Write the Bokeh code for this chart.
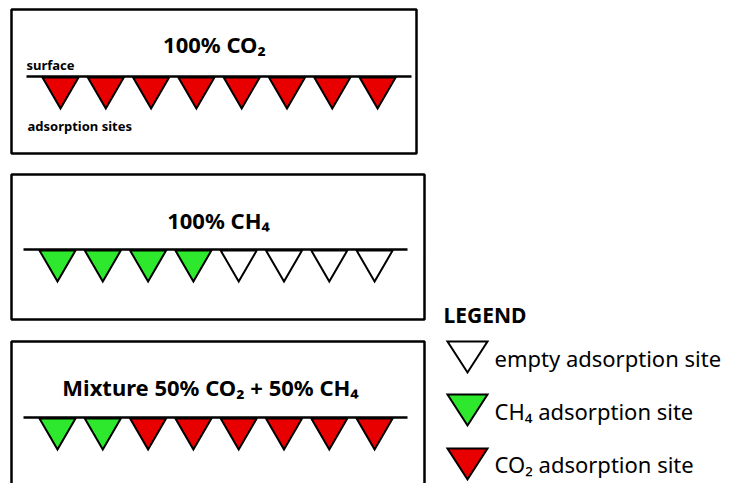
from bokeh.plotting import figure
from bokeh.models import Range1d
from bokeh.core.properties import value
from bokeh.embed import file_html
from bokeh.resources import INLINE

# ---- data ----
panel_titles = ["100% CO₂", "100% CH₄", "Mixture 50% CO₂ + 50% CH₄"]
panel1_sites = ["CO2", "CO2", "CO2", "CO2", "CO2", "CO2", "CO2", "CO2"]
panel2_sites = ["CH4", "CH4", "CH4", "CH4", "empty", "empty", "empty", "empty"]
panel3_sites = ["CH4", "CH4", "CO2", "CO2", "CO2", "CO2", "CO2", "CO2"]
legend_keys = ["empty", "CH4", "CO2"]
legend_labels = ["empty adsorption site", "CH₄ adsorption site", "CO₂ adsorption site"]
legend_title = "LEGEND"
label_surface = "surface"
label_sites = "adsorption sites"

# ---- styles / layout ----
site_colors = {"empty": "#ffffff", "CH4": "#2ee82e", "CO2": "#e80000"}
FONT = value("Noto Sans")

boxes = [(11, 9, 416, 153), (11, 174, 424, 319), (11, 341, 424, 500)]
surface_y = [76, 249, 417]
surface_x = [(26, 411), (23, 407), (23, 407)]
first_apex = [60, 57, 57]
spacing = 45.3
half_w, tri_h = 18, 31
title_x = [214, 218, 210]
title_y = [43, 219, 386]

p = figure(width=732, height=483, output_backend="svg", toolbar_location=None,
           x_range=Range1d(0, 732), y_range=Range1d(483, 0),
           x_axis_location=None, y_axis_location=None,
           min_border=0, min_border_left=0, min_border_right=0,
           min_border_top=0, min_border_bottom=0)
p.grid.visible = False
p.outline_line_color = None
p.background_fill_color = "white"
p.border_fill_color = "white"

# boxes
p.quad(left=[b[0] for b in boxes], top=[b[1] for b in boxes],
       right=[b[2] for b in boxes], bottom=[b[3] for b in boxes],
       fill_color=None, line_color="black", line_width=2.5)

# surface lines
p.segment(x0=[s[0] for s in surface_x], x1=[s[1] for s in surface_x],
          y0=surface_y, y1=surface_y, line_color="black", line_width=2.5)

# adsorption site triangles
xs, ys, cols = [], [], []
for k, sites in enumerate([panel1_sites, panel2_sites, panel3_sites]):
    for i, s in enumerate(sites):
        cx = first_apex[k] + i * spacing
        y0 = surface_y[k] + 1
        xs.append([cx - half_w, cx + half_w, cx])
        ys.append([y0, y0, y0 + tri_h])
        cols.append(site_colors[s])
p.patches(xs=xs, ys=ys, fill_color=cols, line_color="black", line_width=2,
          line_join="miter")

# titles
p.text(x=title_x, y=title_y, text=panel_titles, text_font=FONT,
       text_font_size="22px", text_font_style="bold", text_align="center",
       text_baseline="alphabetic", text_color="black")

# small labels
p.text(x=[26, 27], y=[64, 125], text=[label_surface, label_sites], text_font=FONT,
       text_font_size="13px", text_font_style="bold", text_align="left",
       text_baseline="alphabetic", text_color="black")

# legend
p.text(x=[443], y=[314], text=[legend_title], text_font=FONT,
       text_font_size="21px", text_font_style="bold", text_align="left",
       text_baseline="alphabetic", text_color="black")
leg_top = [341, 394, 448]
lxs, lys, lcols = [], [], []
for j, key in enumerate(legend_keys):
    lxs.append([447, 487, 467])
    lys.append([leg_top[j], leg_top[j], leg_top[j] + 31])
    lcols.append(site_colors[key])
p.patches(xs=lxs, ys=lys, fill_color=lcols, line_color="black", line_width=2,
          line_join="miter")
p.text(x=[494] * 3, y=[357, 410, 463], text=legend_labels, text_font=FONT,
       text_font_size="22px", text_align="left", text_baseline="alphabetic",
       text_color="black")

open("out.html", "w").write(file_html(p, INLINE))
